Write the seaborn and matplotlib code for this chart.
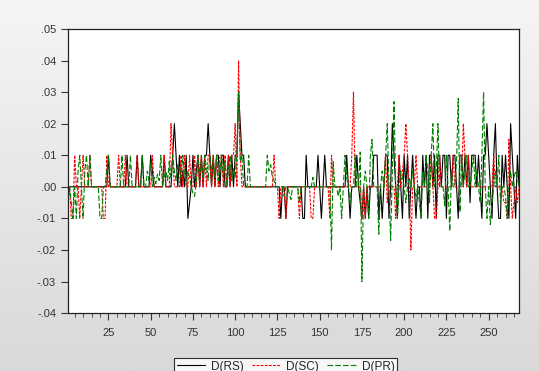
import numpy as np
import pandas as pd
import seaborn as sns
import matplotlib
matplotlib.use("Agg")
import matplotlib.pyplot as plt
from matplotlib.ticker import MultipleLocator, FuncFormatter

# values in thousandths (obs 1..268)
rs = [
    -5, 0, 0, 0, 0, 0, 0, 0, 0, 0, 0, 0, 0, 0, 0, 0, 0, 0, 0, 0,
    0, 0, 0, 0, 10, 0, 0, 0, 0, 0, 0, 0, 0, 0, 0, 10, 0, 0, 0, 0,
    0, 10, 0, 0, 10, 0, 0, 0, 0, 10, 5, 0, 0, 0, 0, 0, 0, 10, 0, 0,
    0, 0, 10, 20, 10, 0, 10, 0, 5, 0, 10, -10, -5, 0, 10, 0, 5, 10, 0, 10,
    0, 10, 10, 20, 10, 0, 10, 0, 10, 10, 0, 10, 10, 0, 0, 10, 0, 10, 0, 10,
    10, 30, 20, 10, 10, 0, 0, 0, 0, 0, 0, 0, 0, 0, 0, 0, 0, 0, 0, 0,
    0, 0, 0, 0, 0, 0, -10, 0, 0, -10, 0, 0, 0, 0, 0, 0, 0, 0, 0, -10,
    -10, 10, 0, 0, 0, 0, 0, 0, 10, 0, -10, 0, 10, 0, 0, 0, 0, 0, 0, 0,
    0, 0, 0, 0, 0, 10, 0, -10, 0, 0, 0, 10, 0, -5, -10, 0, -10, 0, -10, 0,
    0, 10, 10, 10, -10, 0, -10, 0, 10, 10, -10, 0, 20, 10, 0, -10, 10, 0, -10, 10,
    0, 10, -10, 0, 10, 0, -10, 0, 0, -10, 10, 0, 10, -10, 10, 10, 0, 10, -10, 10,
    10, 0, 10, 10, -10, 10, 10, 0, 10, 10, 0, -10, 10, 10, 0, 10, 0, 10, -5, 10,
    10, 10, 0, 10, 0, -10, 10, 10, 20, 10, 0, -10, 10, 20, 0, -10, -10, 10, 0, 10,
    0, -10, 20, 10, 0, -10, 10, 0,
]
sc = [
    0, 0, -10, -10, 10, 0, 0, -10, 0, 10, 0, 0, 0, 10, 0, 0, 0, 0, 0, 0,
    0, -10, -10, 10, 0, 0, 0, 0, 0, 0, 10, 0, 0, 0, 10, 0, 0, 0, 0, 0,
    0, 10, 0, 0, 0, 0, 0, 0, 0, 0, 10, 0, 0, 0, 0, 0, 0, 10, 0, 0,
    0, 20, 10, 0, 0, 0, 0, 10, 0, 10, 0, 0, 10, 0, 0, 10, 0, 10, 0, 10,
    0, 10, 0, 10, 10, 0, 10, 0, 10, 0, 10, 10, 0, 10, 0, 10, 0, 10, 10, 20,
    0, 40, 10, 0, 0, 0, 0, 0, 0, 0, 0, 0, 0, 0, 0, 0, 0, 0, 0, 0,
    0, 0, 10, 0, 0, -10, 0, 0, 0, -10, 0, 0, 0, 0, 0, 0, 0, -10, 0, 0,
    0, 0, 0, 0, -10, -10, 0, 0, 0, 0, 0, 0, 0, 0, 0, -10, 10, 0, 0, 0,
    0, 0, 0, 0, 0, 0, 0, 0, 10, 30, 0, 0, 0, 0, -10, 0, -10, 0, 0, 0,
    0, 0, 0, 0, 0, 0, 0, 0, 10, -5, 0, 0, 0, 0, -10, 0, 10, 0, 5, 10,
    20, 10, 0, -20, 0, 0, 10, 0, 0, 0, 0, 0, 0, 0, 0, 10, 0, -10, -10, 0,
    10, 0, 0, 0, 0, 0, 0, 0, 10, 0, 0, 0, 0, 0, 20, 10, 0, 10, 0, 0,
    0, 0, 0, 0, 0, 0, 0, 0, 0, 0, 0, 0, 10, 0, 0, 0, 0, 0, -5, -5,
    -10, 15, 0, -10, -5, 0, -5, 0,
]
pr = [
    0, 0, -5, -10, 0, -10, 5, 10, 0, -10, 5, 10, 0, 10, 0, 0, 0, 0, 0, -10,
    -10, 0, 0, 5, 10, 0, 0, 0, 0, 0, 0, 0, 10, 0, 0, 0, 0, 10, 0, 0,
    0, 0, 0, 0, 10, 0, 0, 5, 2, 8, 0, 3, 1, 4, 2, 10, 0, 3, 5, 2,
    8, 3, 10, 5, 2, 7, 6, 3, 10, 4, 2, 5, 3, 0, -2, -3, 2, 10, 4, 8,
    3, 10, 6, 2, 10, 5, 8, 3, 10, 2, 6, 10, 3, 8, 0, 5, 10, 2, 6, 3,
    10, 30, 8, 10, 0, 0, 0, 10, 0, 0, 0, 0, 0, 0, 0, 0, 0, 0, 10, 5,
    7, 3, 2, 0, 0, 0, 0, 0, -3, 0, 0, -2, -4, 0, 0, 0, 0, -5, 0, 0,
    0, 0, 0, 0, 0, 3, 0, 0, 0, 0, 0, 0, 0, 0, 0, 0, -20, 8, 0, 0,
    -3, 0, -10, 0, 10, 3, 0, -5, 0, 0, 10, 0, 0, 11, -30, 0, 5, 0, -10, 10,
    15, 0, 0, 0, -15, 0, 5, 0, 10, 20, 0, -17, 5, 27, 0, -10, 0, 5, 3, 0,
    -5, 0, 3, 0, 5, 0, -3, 0, -5, -10, 5, 0, 10, 5, -5, 10, 20, 0, 5, 20,
    0, 0, 0, -6, 10, 0, -14, 5, 0, 0, 8, 28, -8, 10, 0, 5, 10, 0, 0, 5,
    10, 0, 5, 0, -5, 10, 30, 0, -10, 0, -12, -5, 0, 5, 0, 10, -5, 0, 0, -3,
    -10, 0, 5, 0, 3, 5, 3, 0,
]
series_names = ["D(RS)", "D(SC)", "D(PR)"]
colors = ["black", "#ff0000", "#008000"]

n = len(rs)
obs = np.arange(1, n + 1)
df = pd.concat([
    pd.DataFrame({"obs": obs, "value": np.array(v) / 1000.0, "series": name})
    for name, v in zip(series_names, [rs, sc, pr])
])

sns.set_style("white")
plt.rcParams["font.family"] = ["Liberation Sans", "DejaVu Sans"]

fig = plt.figure(figsize=(5.39, 3.71), dpi=100)

# light grey gradient background like the EViews window
bg = fig.add_axes([0, 0, 1, 1], zorder=-1)
grad = np.linspace(0, 1, 256).reshape(-1, 1)
bg.imshow(grad, aspect="auto", cmap=matplotlib.colors.LinearSegmentedColormap.from_list(
    "g", ["#f5f5f5", "#d9d9d9"]), extent=[0, 1, 0, 1])
bg.axis("off")

ax = fig.add_axes([0.126, 0.156, 0.837, 0.766])
ax.set_facecolor("white")

sns.lineplot(data=df, x="obs", y="value", hue="series", style="series",
             palette=dict(zip(series_names, colors)),
             dashes={"D(RS)": "", "D(SC)": (2.5, 1.2), "D(PR)": (5, 2)},
             linewidth=0.8, legend=False, ax=ax)

ax.set_xlim(1, n)
ax.set_ylim(-0.04, 0.05)
ax.yaxis.set_major_locator(MultipleLocator(0.01))
ax.yaxis.set_major_formatter(FuncFormatter(
    lambda v, p: ("%.2f" % v).replace("0.", ".") if abs(v) > 1e-9 else ".00"))
ax.xaxis.set_major_locator(MultipleLocator(25))
ax.xaxis.set_minor_locator(MultipleLocator(5))
ax.xaxis.set_major_formatter(FuncFormatter(lambda v, p: "" if v < 10 else "%d" % v))
ax.set_xlabel("")
ax.set_ylabel("")
ax.tick_params(axis="both", which="major", direction="out", length=5, width=0.8,
               labelsize=8, colors="#333333", left=True, bottom=True)
ax.tick_params(axis="x", which="minor", direction="out", length=3, width=0.6,
               bottom=True, colors="#333333")
ax.tick_params(axis="x", pad=6)
for s in ax.spines.values():
    s.set_color("#222222")
    s.set_linewidth(0.9)

handles = [plt.Line2D([], [], color=colors[0], lw=0.8),
           plt.Line2D([], [], color=colors[1], lw=0.8, dashes=(2.5, 1.2)),
           plt.Line2D([], [], color=colors[2], lw=0.8, dashes=(5, 2))]
leg = fig.legend(handles, series_names, loc="lower center", ncol=3,
                 bbox_to_anchor=(0.53, -0.012), fontsize=8.5, frameon=True,
                 fancybox=False, edgecolor="black", handlelength=2.4,
                 columnspacing=0.7, handletextpad=0.5, borderpad=0.25,
                 borderaxespad=0.0)
leg.get_frame().set_linewidth(0.8)

fig.savefig("out.png", dpi=100)
